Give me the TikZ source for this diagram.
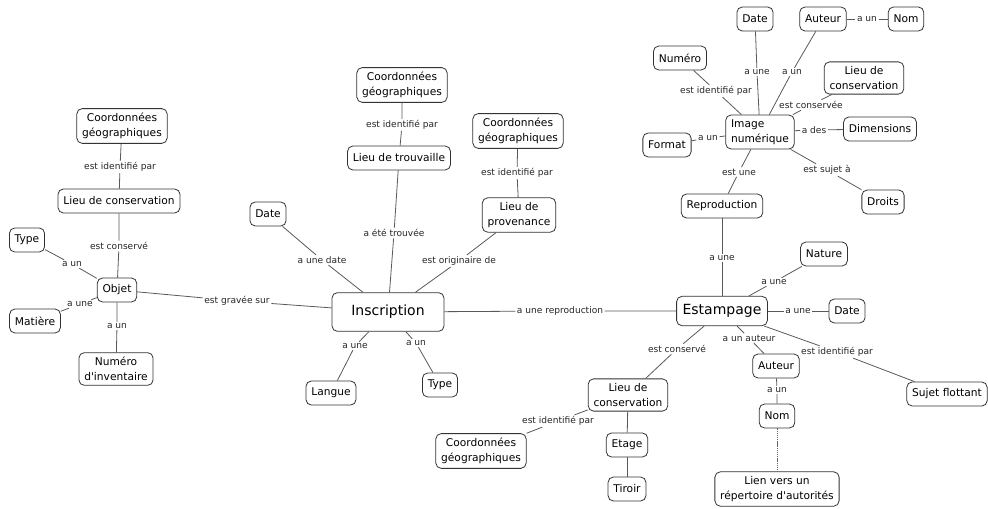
\documentclass[tikz,border=0pt]{standalone}
\usepackage{fontspec}
\setmainfont{DejaVu Sans}[Ligatures=TeXOff]
\begin{document}
\begin{tikzpicture}[x=0.75pt,y=-0.75pt,
  cn/.style={draw=black!80, rounded corners=4pt, fill=white, font=\fontsize{8}{11}\selectfont,
    align=center, inner xsep=4pt, inner ysep=3.5pt, minimum height=18pt, line width=0.6pt},
  big/.style={cn, font=\fontsize{10.5}{12}\selectfont, minimum height=29pt, minimum width=84pt},
  est/.style={cn, font=\fontsize{10.5}{12}\selectfont, minimum height=22pt, inner xsep=4.5pt},
  lb/.style={font=\fontsize{6.8}{8}\selectfont, inner sep=1pt, text=black!85},
  ln/.style={draw=black!65, line width=0.6pt},
  dl/.style={draw=black!60, line width=0.4pt, dash pattern=on 1pt off 0.6pt}]
\useasboundingbox (0,0) rectangle (988,509);

% ---- nodes ----
\node[cn] (c1) at (122,126) {Coordonnées\\géographiques};
\node[cn] (lc1) at (119,201) {Lieu de conservation};
\node[cn] (ty1) at (27,240) {Type};
\node[cn] (obj) at (117,290) {Objet};
\node[cn] (mat) at (35,321) {Matière};
\node[cn] (num1) at (116,369) {Numéro\\d'inventaire};
\node[cn] (da2) at (268,214) {Date};
\node[cn] (c2) at (402,85) {Coordonnées\\géographiques};
\node[cn] (ldt) at (399,158) {Lieu de trouvaille};
\node[cn] (c3) at (518,131) {Coordonnées\\géographiques};
\node[cn] (ldp) at (519,215) {Lieu de\\provenance};
\node[big] (ins) at (388,312) {Inscription};
\node[cn] (lan) at (331,393) {Langue};
\node[cn] (ty2) at (440,385) {Type};
\node[cn] (da3) at (755,19) {Date};
\node[cn] (au3) at (823,19) {Auteur};
\node[cn] (nom3) at (906,19) {Nom};
\node[cn] (numr) at (680,58) {Numéro};
\node[cn] (lc3) at (864,78) {Lieu de\\conservation};
\node[cn, align=left] (img) at (760,132) {Image\\numérique};
\node[cn] (fmt) at (667,145) {Format};
\node[cn] (dim) at (880,129) {Dimensions};
\node[cn] (dr) at (883,202) {Droits};
\node[cn] (rep) at (722,206) {Reproduction};
\node[cn] (nat) at (824,254) {Nature};
\node[est] (esp) at (722,311) {Estampage};
\node[cn] (da4) at (847,311) {Date};
\node[cn] (lc4) at (628,395) {Lieu de\\conservation};
\node[cn] (au4) at (776,366) {Auteur};
\node[cn] (nom4) at (777,416) {Nom};
\node[cn] (suj) at (947,394) {Sujet flottant};
\node[cn] (c4) at (481,451) {Coordonnées\\géographiques};
\node[cn] (eta) at (627,445) {Etage};
\node[cn] (tir) at (627,489) {Tiroir};
\node[cn] (lien) at (777,489) {Lien vers un\\répertoire d'autorités};

% ---- labels ----
\node[lb] (l1) at (120,167) {est identifié par};
\node[lb] (l2) at (119,246) {est conservé};
\node[lb] (l3) at (72,264) {a un};
\node[lb] (l4) at (80,304) {a une};
\node[lb] (l5) at (117,326) {a un};
\node[lb] (l6) at (237,301) {est gravée sur};
\node[lb] (l7) at (402,125) {est identifié par};
\node[lb] (l8) at (517,173) {est identifié par};
\node[lb] (l9) at (394,233) {a été trouvée};
\node[lb] (l10) at (322,260) {a une date};
\node[lb] (l11) at (459,261) {est originaire de};
\node[lb] (l12) at (355,346) {a une};
\node[lb] (l13) at (416,343) {a un};
\node[lb] (l14) at (560,311) {a une reproduction};
\node[lb] (l15) at (757,72) {a une};
\node[lb] (l16) at (792,72) {a un};
\node[lb] (l17) at (716,91) {est identifié par};
\node[lb] (l18) at (811,105) {est conservée};
\node[lb] (l19) at (867,19) {a un};
\node[lb] (l20) at (814,130) {a des};
\node[lb] (l21) at (708,138) {a un};
\node[lb] (l22) at (739,172) {est une};
\node[lb] (l23) at (827,170) {est sujet à};
\node[lb] (l24) at (722,258) {a une};
\node[lb] (l25) at (774,282) {a une};
\node[lb] (l26) at (798,311) {a une};
\node[lb] (l27) at (677,349) {est conservé};
\node[lb] (l28) at (749,338) {a un auteur};
\node[lb] (l29) at (837,352) {est identifié par};
\node[lb] (l30) at (777,390) {a un};
\node[lb] (l31) at (558,421) {est identifié par};

% ---- connectors ----
\draw[ln] (c1) -- (l1) -- (lc1);
\draw[ln] (lc1) -- (l2) -- (obj);
\draw[ln] (ty1) -- (l3) -- (obj);
\draw[ln] (mat) -- (l4) -- (obj);
\draw[ln] (obj) -- (l5) -- (num1);
\draw[ln] (obj) -- (l6) -- (ins);
\draw[ln] (c2) -- (l7) -- (ldt);
\draw[ln] (c3) -- (l8) -- (ldp);
\draw[ln] (ldt) -- (l9) -- (ins);
\draw[ln] (da2) -- (l10) -- (ins);
\draw[ln] (ldp) -- (l11) -- (ins);
\draw[ln] (ins) -- (l12) -- (lan);
\draw[ln] (ins) -- (l13) -- (ty2);
\draw[ln] (ins) -- (l14) -- (esp);
\draw[ln] (img) -- (l15) -- (da3);
\draw[ln] (img) -- (l16) -- (au3);
\draw[ln] (img) -- (l17) -- (numr);
\draw[ln] (img) -- (l18) -- (lc3);
\draw[ln] (au3) -- (l19) -- (nom3);
\draw[ln] (img) -- (l20) -- (dim);
\draw[ln] (img) -- (l21) -- (fmt);
\draw[ln] (img) -- (l22) -- (rep);
\draw[ln] (img) -- (l23) -- (dr);
\draw[ln] (rep) -- (l24) -- (esp);
\draw[ln] (esp) -- (l25) -- (nat);
\draw[ln] (esp) -- (l26) -- (da4);
\draw[ln] (esp) -- (l27) -- (lc4);
\draw[ln] (esp) -- (l28) -- (au4);
\draw[ln] (esp) -- (l29) -- (suj);
\draw[ln] (au4) -- (l30) -- (nom4);
\draw[ln] (lc4) -- (l31) -- (c4);
\draw[ln] (lc4) -- (eta);
\draw[ln] (eta) -- (tir);
\draw[dl] (nom4) -- (lien);
\end{tikzpicture}
\end{document}
